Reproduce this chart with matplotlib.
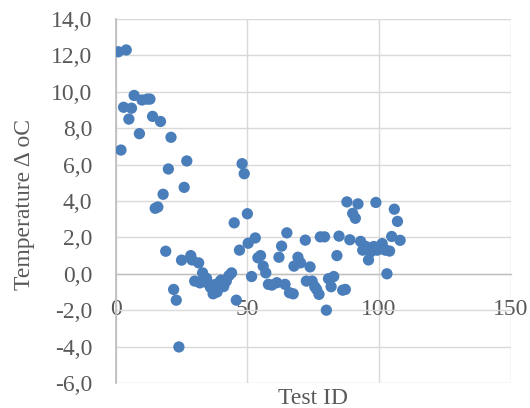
import matplotlib
matplotlib.use("Agg")
from matplotlib import pyplot as plt
from matplotlib.ticker import FuncFormatter

# Test IDs and temperature differences
test_id = [1, 4, 2, 3, 6, 5, 7, 9, 10, 12, 13, 14, 17, 15, 16, 18, 20, 21, 19,
           22, 23, 24, 25, 26, 27, 28.5, 29, 30, 31.5, 32, 33, 33.5, 34.5, 35.5,
           36, 37, 37.5, 38.5, 39.5, 40, 41, 42, 43, 44, 45, 45.8, 47, 48, 48.8,
           50, 50.3, 51.6, 53, 54, 55, 56, 57, 58, 59.3, 61.2, 62, 63, 64.3, 65,
           66, 67.4, 67.7, 69.2, 70.2, 72, 72.4, 73.8, 74.6, 75.6, 76.3, 77.2,
           77.7, 79.3, 80, 80.8, 81.8, 82.8, 84, 84.8, 86.2, 87.2, 87.8, 88.9,
           90, 91, 92, 93, 93.8, 94.5, 95, 96, 96.8, 97.5, 98, 98.8, 99.3, 100.3,
           101.2, 101.8, 102.4, 103, 104, 104.8, 105.8, 107, 108]
temp_diff = [12.2, 12.3, 6.8, 9.15, 9.1, 8.5, 9.8, 7.7, 9.55, 9.6, 9.6, 8.65,
             8.37, 3.6, 3.67, 4.37, 5.76, 7.5, 1.24, -0.86, -1.45, -4.02, 0.75,
             4.75, 6.2, 1.0, 0.76, -0.4, 0.6, -0.5, 0.05, -0.3, -0.25, -0.6,
             -0.75, -1.1, -0.6, -1.0, -0.45, -0.35, -0.7, -0.4, -0.1, 0.05, 2.8,
             -1.45, 1.3, 6.05, 5.5, 3.3, 1.68, -0.15, 1.97, 0.88, 1.0, 0.42, 0.05,
             -0.58, -0.62, -0.49, 0.91, 1.52, -0.58, 2.25, -1.04, -1.1, 0.42,
             0.91, 0.6, 1.85, -0.4, 0.38, -0.4, -0.71, -0.86, -1.13, 2.03, 2.03,
             -2.0, -0.27, -0.71, -0.15, 1.0, 2.07, -0.9, -0.86, 3.95, 1.87, 3.32,
             3.05, 3.84, 1.78, 1.3, 1.5, 1.5, 0.76, 1.2, 1.42, 1.5, 3.92, 1.3,
             1.5, 1.66, 1.35, 1.3, 0.0, 1.25, 2.05, 3.55, 2.88, 1.84]

x_ticks = [0, 50, 100, 150]
y_ticks = [-6, -4, -2, 0, 2, 4, 6, 8, 10, 12, 14]

plt.rcParams['font.family'] = ['Liberation Serif', 'DejaVu Serif']
txt_color = '#595959'

fig = plt.figure(figsize=(5.3, 4.08), dpi=100)
ax = fig.add_axes([0.2183, 0.0613, 0.7453, 0.8921])

ax.scatter(test_id, temp_diff, s=66, color='#4a7ebb', edgecolors='none', zorder=3)

ax.set_xlim(0, 150)
ax.set_ylim(-6, 14)
ax.set_xticks(x_ticks)
ax.set_yticks(y_ticks)
ax.yaxis.set_major_formatter(FuncFormatter(lambda v, p: f"{v:.1f}".replace('.', ',')))

# gridlines
ax.grid(True, color='#d9d9d9', linewidth=1.0, zorder=0)
ax.set_axisbelow(True)

# spines: left at x=0, bottom crossing at y=0
ax.spines['left'].set_color('#bfbfbf')
ax.spines['left'].set_linewidth(1.3)
ax.spines['bottom'].set_position(('data', 0))
ax.spines['bottom'].set_color('#bfbfbf')
ax.spines['bottom'].set_linewidth(1.0)
ax.spines['top'].set_visible(False)
ax.spines['right'].set_visible(False)

ax.tick_params(axis='both', length=0, labelsize=17, labelcolor=txt_color)
ax.tick_params(axis='y', pad=17)
ax.tick_params(axis='x', pad=18)

fig.text(0.5909, 1 - 388 / 408, 'Test ID', ha='center', va='top',
         fontsize=17, color=txt_color)
fig.text(14 / 530, 0.5, 'Temperature \u0394 oC', rotation=90, ha='left',
         va='center', fontsize=17, color=txt_color)

fig.savefig('out.png', dpi=100)
